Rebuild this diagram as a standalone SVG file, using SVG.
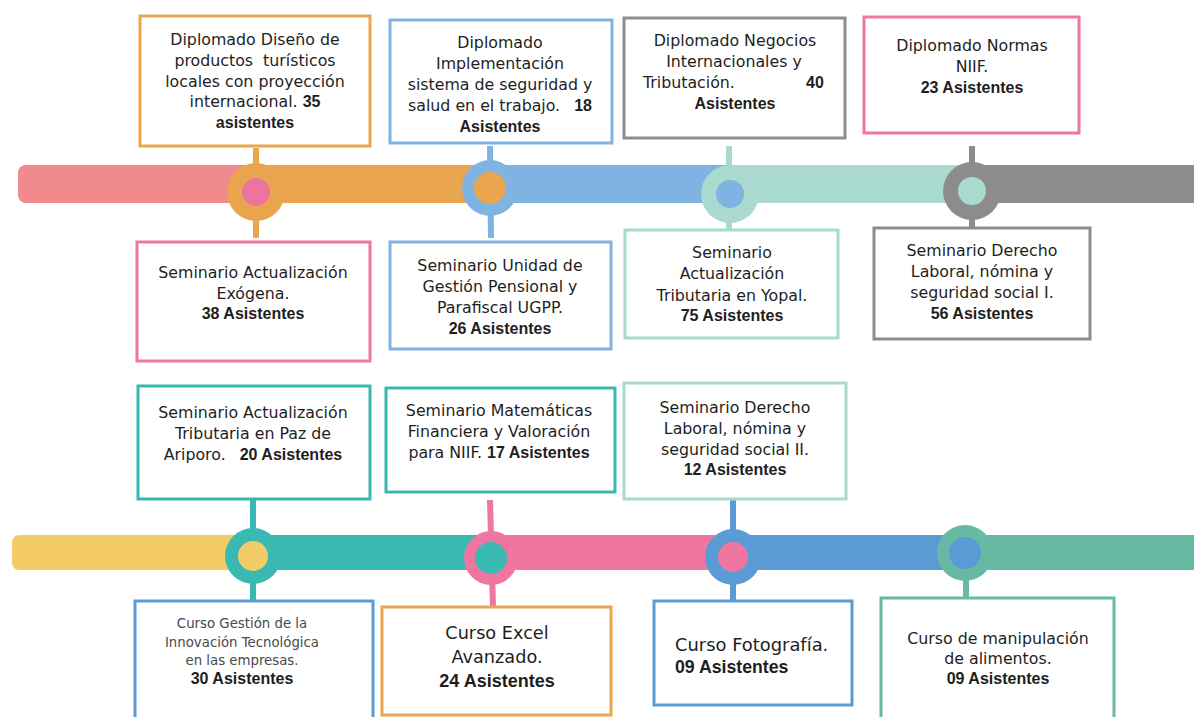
<svg xmlns="http://www.w3.org/2000/svg" width="1194" height="717" viewBox="0 0 1194 717">
<style>
.t{font-family:"DejaVu Sans","Liberation Sans",sans-serif;font-size:15.8px;fill:#1e1e1e;text-anchor:middle}
.s{text-anchor:start}
.b{font-family:"Liberation Sans",Arial,sans-serif;font-weight:bold;font-size:16px}
.box{fill:#fff;stroke-width:3}
.stem{stroke-width:6;fill:none}
</style>
<rect width="1194" height="717" fill="#fff"/>
<g id="timeline1">
<rect x="18" y="165" width="260" height="38" rx="8" fill="#F08A8C"/>
<rect x="256" y="165" width="234" height="38" fill="#EAA64F"/>
<rect x="490" y="165" width="240" height="38" fill="#7FB3E1"/>
<rect x="730" y="165" width="242" height="38" fill="#A9D9CF"/>
<rect x="972" y="165" width="222" height="38" fill="#8C8C8C"/>
</g>
<g id="timeline2">
<rect x="12" y="535" width="260" height="35" rx="7" fill="#F3CC67"/>
<rect x="253" y="535" width="237" height="35" fill="#3AB9B2"/>
<rect x="490" y="535" width="243" height="35" fill="#EF76A0"/>
<rect x="733" y="535" width="232" height="35" fill="#5B9BD5"/>
<rect x="965" y="535" width="229" height="35" fill="#67B9A3"/>
</g>
<g id="connectors">
<line class="stem" x1="256" y1="148" x2="256" y2="238" stroke="#EAA64F"/>
<line class="stem" x1="490" y1="146" x2="491" y2="238" stroke="#7FB3E1"/>
<line class="stem" x1="729" y1="146" x2="729" y2="230" stroke="#A9D9CF"/>
<line class="stem" x1="972" y1="146" x2="972" y2="228" stroke="#8C8C8C"/>
<line class="stem" x1="253" y1="499" x2="253" y2="601" stroke="#3AB9B2"/>
<line class="stem" x1="490" y1="500" x2="493" y2="607" stroke="#EF76A0"/>
<line class="stem" x1="733" y1="498" x2="733" y2="601" stroke="#5B9BD5"/>
<line class="stem" x1="966" y1="553" x2="966" y2="598" stroke="#67B9A3"/>
</g>
<g id="markers">
<circle cx="256" cy="192" r="29" fill="#EAA64F"/><circle cx="256" cy="192" r="14" fill="#EE74A0"/>
<circle cx="490" cy="188" r="28" fill="#7FB3E1"/><circle cx="490" cy="188" r="16" fill="#EAA64F"/>
<circle cx="730" cy="194" r="29" fill="#A9D9CF"/><circle cx="730" cy="194" r="14" fill="#7FB3E1"/>
<circle cx="972" cy="191" r="29" fill="#8C8C8C"/><circle cx="972" cy="191" r="14" fill="#A9D9CF"/>
<circle cx="253" cy="556" r="28" fill="#3AB9B2"/><circle cx="253" cy="556" r="15" fill="#F3CC67"/>
<circle cx="491" cy="558" r="27" fill="#EF76A0"/><circle cx="491" cy="558" r="16" fill="#3AB9B2"/>
<circle cx="733" cy="557" r="28" fill="#5B9BD5"/><circle cx="733" cy="557" r="15" fill="#EF76A0"/>
<circle cx="965" cy="553" r="28" fill="#67B9A3"/><circle cx="965" cy="553" r="16" fill="#5B9BD5"/>
</g>
<g id="n1">
<rect class="box" x="140" y="16" width="230" height="130" stroke="#EAA64F"/>
<text class="t" x="255" y="45">Diplomado Diseño de</text>
<text class="t" x="255" y="66" xml:space="preserve">productos  turísticos</text>
<text class="t" x="255" y="87">locales con proyección</text>
<text class="t" x="255" y="107">internacional. <tspan class="b">35</tspan></text>
<text class="t b" x="255" y="128">asistentes</text>
</g>
<g id="n2">
<rect class="box" x="390" y="20" width="222" height="123" stroke="#7FB3E1"/>
<text class="t" x="500" y="48">Diplomado</text>
<text class="t" x="500" y="69">Implementación</text>
<text class="t" x="500" y="90">sistema de seguridad y</text>
<text class="t" x="500" y="111">salud en el trabajo.<tspan class="b" dx="14">18</tspan></text>
<text class="t b" x="500" y="132">Asistentes</text>
</g>
<g id="n3">
<rect class="box" x="624" y="18" width="221" height="120" stroke="#8C8C8C"/>
<text class="t" x="735" y="46">Diplomado Negocios</text>
<text class="t" x="734" y="67">Internacionales y</text>
<text class="t s" x="643" y="88">Tributación.</text>
<text class="t s b" x="806" y="88">40</text>
<text class="t b" x="735" y="109">Asistentes</text>
</g>
<g id="n4">
<rect class="box" x="864" y="17" width="215" height="116" stroke="#EF76A0"/>
<text class="t" x="972" y="51">Diplomado Normas</text>
<text class="t" x="972" y="72">NIIF.</text>
<text class="t b" x="972" y="93">23 Asistentes</text>
</g>
<g id="n5">
<rect class="box" x="137" y="242" width="233" height="119" stroke="#EF76A0"/>
<text class="t" x="253" y="278">Seminario Actualización</text>
<text class="t" x="253" y="299">Exógena.</text>
<text class="t b" x="253" y="319">38 Asistentes</text>
</g>
<g id="n6">
<rect class="box" x="390" y="242" width="221" height="107" stroke="#7FB3E1"/>
<text class="t" x="500" y="271">Seminario Unidad de</text>
<text class="t" x="500" y="292">Gestión Pensional y</text>
<text class="t" x="500" y="313">Parafiscal UGPP.</text>
<text class="t b" x="500" y="334">26 Asistentes</text>
</g>
<g id="n7">
<rect class="box" x="625" y="230" width="213" height="108" stroke="#A9D9CF"/>
<text class="t" x="732" y="258">Seminario</text>
<text class="t" x="732" y="279">Actualización</text>
<text class="t" x="732" y="301">Tributaria en Yopal.</text>
<text class="t b" x="732" y="321">75 Asistentes</text>
</g>
<g id="n8">
<rect class="box" x="874" y="228" width="216" height="111" stroke="#8C8C8C"/>
<text class="t" x="982" y="256">Seminario Derecho</text>
<text class="t" x="982" y="277">Laboral, nómina y</text>
<text class="t" x="982" y="298">seguridad social I.</text>
<text class="t b" x="982" y="319">56 Asistentes</text>
</g>
<g id="n9">
<rect class="box" x="138" y="386" width="232" height="113" stroke="#3AB9B2"/>
<text class="t" x="253" y="418">Seminario Actualización</text>
<text class="t" x="253" y="439">Tributaria en Paz de</text>
<text class="t" x="253" y="460">Ariporo.<tspan class="b" dx="14">20 Asistentes</tspan></text>
</g>
<g id="n10">
<rect class="box" x="386" y="388" width="229" height="104" stroke="#3AB9B2"/>
<text class="t" x="499" y="416">Seminario Matemáticas</text>
<text class="t" x="499" y="437">Financiera y Valoración</text>
<text class="t" x="499" y="458">para NIIF. <tspan class="b">17 Asistentes</tspan></text>
</g>
<g id="n11">
<rect class="box" x="624" y="383" width="222" height="116" stroke="#A9D9CF"/>
<text class="t" x="735" y="413">Seminario Derecho</text>
<text class="t" x="735" y="434">Laboral, nómina y</text>
<text class="t" x="735" y="455">seguridad social II.</text>
<text class="t b" x="735" y="475">12 Asistentes</text>
</g>
<g id="n12">
<rect class="box" x="135" y="601" width="238" height="120" stroke="#5B9BD5"/>
<text class="t" x="242" y="628" style="font-size:13.3px;fill:#4a4a4a">Curso Gestión de la</text>
<text class="t" x="242" y="647" style="font-size:13.3px;fill:#4a4a4a">Innovación Tecnológica</text>
<text class="t" x="242" y="665" style="font-size:13.3px;fill:#4a4a4a">en las empresas.</text>
<text class="t b" x="242" y="684">30 Asistentes</text>
</g>
<g id="n13">
<rect class="box" x="382" y="607" width="229" height="108" stroke="#EAA64F"/>
<text class="t" x="497" y="639" style="font-size:17.7px">Curso Excel</text>
<text class="t" x="497" y="663" style="font-size:17.7px">Avanzado.</text>
<text class="t b" x="497" y="687" style="font-size:18px">24 Asistentes</text>
</g>
<g id="n14">
<rect class="box" x="654" y="601" width="198" height="104" stroke="#5B9BD5"/>
<text class="t s" x="675" y="651" style="font-size:17.9px">Curso Fotografía.</text>
<text class="t s b" x="675" y="673" style="font-size:17.7px">09 Asistentes</text>
</g>
<g id="n15">
<rect class="box" x="881" y="598" width="233" height="121" stroke="#67B9A3"/>
<text class="t" x="998" y="644">Curso de manipulación</text>
<text class="t" x="998" y="664">de alimentos.</text>
<text class="t b" x="998" y="684">09 Asistentes</text>
</g>
</svg>
